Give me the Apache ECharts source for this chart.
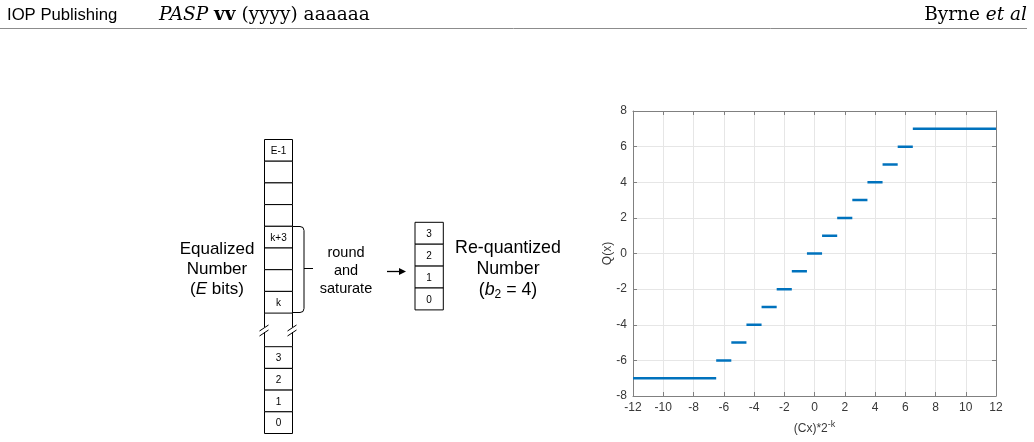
<!DOCTYPE html>
<html>
<head>
<meta charset="utf-8">
<title>Re-quantization</title>
<script src="https://cdn.jsdelivr.net/npm/echarts@6/dist/echarts.min.js"></script>
<style>
  html, body { margin: 0; padding: 0; background: #fff; }
  #main { width: 1034px; height: 442px; }
</style>
</head>
<body>
<div id="main"></div>
<script type="text/javascript">
// step function Q(x): level held from stepFrom to stepTo
var stepLevels = [-7, -6, -5, -4, -3, -2, -1, 0, 1, 2, 3, 4, 5, 6, 7];
var stepFrom = [-12, -6.5, -5.5, -4.5, -3.5, -2.5, -1.5, -0.5, 0.5, 1.5, 2.5, 3.5, 4.5, 5.5, 6.5];
var stepTo = [-6.5, -5.5, -4.5, -3.5, -2.5, -1.5, -0.5, 0.5, 1.5, 2.5, 3.5, 4.5, 5.5, 6.5, 12];
var xTicks = [-12, 12, 2];   // min, max, interval
var yTicks = [-8, 8, 2];

// bit boxes of the diagram
var upperBits = ['E-1', '', '', '', 'k+3', '', '', 'k'];
var lowerBits = ['3', '2', '1', '0'];
var reqBits = ['3', '2', '1', '0'];

var SANS = '"Liberation Sans", Arial, sans-serif';
var SERIF = '"DejaVu Serif", serif';
var myChart = echarts.init(document.getElementById('main'));

var g = [];
function box(x, y, w, h, label) {
    g.push({ type: 'rect', shape: { x: x, y: y, width: w, height: h },
        style: { fill: '#fff', stroke: '#000', lineWidth: 1 } });
    if (label) {
        g.push({ type: 'text', x: x + w / 2, y: y + h / 2 + 1,
            style: { text: label, fontSize: 10, fontFamily: SANS, fill: '#000', align: 'center', verticalAlign: 'middle' } });
    }
}
function line(x1, y1, x2, y2, w) {
    g.push({ type: 'line', shape: { x1: x1, y1: y1, x2: x2, y2: y2 },
        style: { stroke: '#000', lineWidth: w || 1 } });
}
function curve(x1, y1, cx, cy, x2, y2) {
    g.push({ type: 'bezierCurve', shape: { x1: x1, y1: y1, cpx1: cx, cpy1: cy, x2: x2, y2: y2 },
        style: { stroke: '#000', fill: null, lineWidth: 1 } });
}
function label(x, y, text, size, rich) {
    g.push({ type: 'text', x: x, y: y,
        style: { text: text, fontSize: size, fontFamily: SANS, fill: '#000', align: 'center', verticalAlign: 'middle', rich: rich || {} } });
}

// header
g.push({ type: 'text', x: 7, y: 15, style: { text: 'IOP Publishing', fontSize: 16.7, fontFamily: SANS, fill: '#000', verticalAlign: 'middle' } });
g.push({ type: 'text', x: 159, y: 15, style: {
    text: '{i|PASP} {b|vv} (yyyy) aaaaaa', fontSize: 18.5, fontFamily: SERIF, fill: '#000', verticalAlign: 'middle',
    rich: { i: { fontStyle: 'italic', fontSize: 18.5, fontFamily: SERIF }, b: { fontWeight: 'bold', fontSize: 18.5, fontFamily: SERIF } } } });
g.push({ type: 'text', x: 1027, y: 15, style: {
    text: 'Byrne {i|et al}', fontSize: 18.5, fontFamily: SERIF, fill: '#000', align: 'right', verticalAlign: 'middle',
    rich: { i: { fontStyle: 'italic', fontSize: 18.5, fontFamily: SERIF } } } });
g.push({ type: 'line', shape: { x1: 0, y1: 28.5, x2: 1027, y2: 28.5 }, style: { stroke: '#8c8c8c', lineWidth: 1 } });

// equalized number column
var cx = 264.5, cw = 28, bh = 21.7;
upperBits.forEach(function (b, i) { box(cx, 139.5 + i * bh, cw, bh, b); });
lowerBits.forEach(function (b, i) { box(cx, 346.7 + i * bh, cw, bh, b); });
var colBottom = 139.5 + upperBits.length * bh;
[cx, cx + cw].forEach(function (x) {
    line(x, colBottom, x, 327);
    line(x, 332, x, 346.7);
    line(x - 5, 331, x + 4, 325);
    line(x - 5, 336, x + 4, 330);
});

// brace
line(293, 226.5, 300, 226.5);
curve(300, 226.5, 304, 226.5, 304, 230.5);
line(304, 230.5, 304, 308.5);
curve(304, 308.5, 304, 312.5, 300, 312.5);
line(300, 312.5, 293, 312.5);
line(304, 268.5, 313, 268.5);

label(217, 249, 'Equalized', 17);
label(217, 269, 'Number', 17);
label(217, 289, '({i|E} bits)', 17, { i: { fontStyle: 'italic', fontSize: 17, fontFamily: SANS } });

label(346, 253, 'round', 14.5);
label(346, 271, 'and', 14.5);
label(346, 289, 'saturate', 14.5);

// arrow
line(387, 271.5, 400, 271.5, 1.3);
g.push({ type: 'polygon', shape: { points: [[399, 268], [406, 271.5], [399, 275]] }, style: { fill: '#000' } });

// re-quantized column
reqBits.forEach(function (b, i) { box(415, 222.3 + i * 21.9, 28.3, 21.9, b); });
label(508, 248, 'Re-quantized', 17.8);
label(508, 269, 'Number', 17.8);
label(508, 290, '({i|b}{s|2} = 4)', 17.8, {
    i: { fontStyle: 'italic', fontSize: 17.8, fontFamily: SANS, lineHeight: 22 },
    s: { fontSize: 12, fontFamily: SANS, verticalAlign: 'bottom', lineHeight: 22 } });

var series = stepLevels.map(function (lv, i) {
    return {
        type: 'line',
        data: [[stepFrom[i], lv], [stepTo[i], lv]],
        showSymbol: false,
        silent: true,
        lineStyle: { color: '#0072BD', width: 2.5 },
        xAxisIndex: 0, yAxisIndex: 0
    };
});

var axisCommon = {
    type: 'value',
    axisLine: { show: true, onZero: false, lineStyle: { color: '#808080', width: 1 } },
    axisTick: { show: true, inside: true, length: 4, lineStyle: { color: '#808080' } }
};

var option = {
    animation: false,
    backgroundColor: '#fff',
    grid: { left: 633, right: 38, top: 111, bottom: 46 },
    xAxis: [
        Object.assign({}, axisCommon, {
            position: 'bottom', min: xTicks[0], max: xTicks[1], interval: xTicks[2],
            axisLabel: { color: '#383838', fontSize: 12, fontFamily: SANS, margin: 6 },
            splitLine: { show: true, lineStyle: { color: '#e6e6e6' } },
            name: '(Cx)*2{s|-k}', nameLocation: 'middle', nameGap: 24,
            nameTextStyle: { color: '#383838', fontSize: 12, fontFamily: SANS,
                rich: { s: { fontSize: 9, verticalAlign: 'top', lineHeight: 17, fontFamily: SANS, color: '#383838' } } }
        }),
        Object.assign({}, axisCommon, {
            position: 'top', min: xTicks[0], max: xTicks[1], interval: xTicks[2],
            axisLabel: { show: false }, splitLine: { show: false }
        })
    ],
    yAxis: [
        Object.assign({}, axisCommon, {
            position: 'left', min: yTicks[0], max: yTicks[1], interval: yTicks[2],
            axisLabel: { color: '#383838', fontSize: 12, fontFamily: SANS, margin: 6 },
            splitLine: { show: true, lineStyle: { color: '#e6e6e6' } },
            name: 'Q(x)', nameLocation: 'middle', nameGap: 19, nameRotate: 90, nameMoveOverlap: false,
            nameTextStyle: { color: '#383838', fontSize: 12, fontFamily: SANS }
        }),
        Object.assign({}, axisCommon, {
            position: 'right', min: yTicks[0], max: yTicks[1], interval: yTicks[2],
            axisLabel: { show: false }, splitLine: { show: false }
        })
    ],
    graphic: g,
    series: series
};
myChart.setOption(option);
</script>
</body>
</html>
